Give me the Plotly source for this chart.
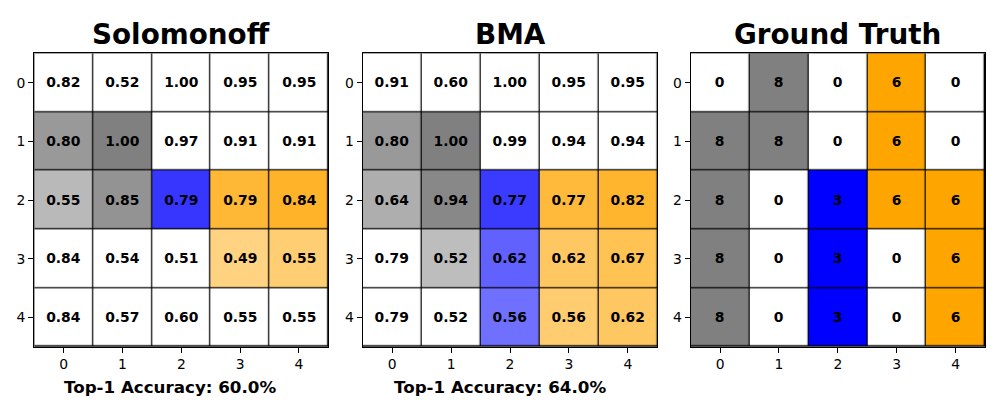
import plotly.graph_objects as go

rows = [0, 1, 2, 3, 4]
cols = [0, 1, 2, 3, 4]

titles = ["Solomonoff", "BMA", "Ground Truth"]

solomonoff_pred = [[0, 0, 0, 0, 0],
                   [8, 8, 0, 0, 0],
                   [8, 8, 3, 6, 6],
                   [0, 0, 0, 6, 6],
                   [0, 0, 0, 0, 0]]
solomonoff_prob = [[0.82, 0.52, 1.00, 0.95, 0.95],
                   [0.80, 1.00, 0.97, 0.91, 0.91],
                   [0.55, 0.85, 0.79, 0.79, 0.84],
                   [0.84, 0.54, 0.51, 0.49, 0.55],
                   [0.84, 0.57, 0.60, 0.55, 0.55]]

bma_pred = [[0, 0, 0, 0, 0],
            [8, 8, 0, 0, 0],
            [8, 8, 3, 6, 6],
            [0, 8, 3, 6, 6],
            [0, 0, 3, 6, 6]]
bma_prob = [[0.91, 0.60, 1.00, 0.95, 0.95],
            [0.80, 1.00, 0.99, 0.94, 0.94],
            [0.64, 0.94, 0.77, 0.77, 0.82],
            [0.79, 0.52, 0.62, 0.62, 0.67],
            [0.79, 0.52, 0.56, 0.56, 0.62]]

ground_truth = [[0, 8, 0, 6, 0],
                [8, 8, 0, 6, 0],
                [8, 0, 3, 6, 6],
                [8, 0, 3, 0, 6],
                [8, 0, 3, 0, 6]]

palette = {0: (255, 255, 255), 3: (0, 0, 255), 6: (255, 165, 0), 8: (128, 128, 128)}

FONT = "DejaVu Sans"


def blend(cls, alpha):
    r, g, b = palette[cls]
    f = lambda c: round(255 - alpha * (255 - c))
    return f"rgb({f(r)},{f(g)},{f(b)})"


def accuracy(pred, gt):
    n = sum(1 for i in rows for j in cols if pred[i][j] == gt[i][j])
    return 100.0 * n / (len(rows) * len(cols))


panels = [
    (solomonoff_pred, solomonoff_prob, True),
    (bma_pred, bma_prob, True),
    (ground_truth, None, False),
]

x_domains = [[0.0343, 0.3283], [0.3627, 0.6573], [0.6907, 0.985]]
y_domain = [0.1333, 0.8667]
acc_x = [0.170, 0.500, None]

fig = go.Figure()
annotations = []

for p, (cls_grid, prob_grid, is_pred) in enumerate(panels):
    n = len(rows) * len(cols)
    z = [[i * len(cols) + j for j in cols] for i in rows]
    colors = []
    texts = []
    for i in rows:
        trow = []
        for j in cols:
            if prob_grid is not None:
                colors.append(blend(cls_grid[i][j], prob_grid[i][j]))
                trow.append(f"{prob_grid[i][j]:.2f}")
            else:
                colors.append(blend(cls_grid[i][j], 1.0))
                trow.append(str(cls_grid[i][j]))
        texts.append(trow)
    colorscale = [[k / (n - 1), colors[k]] for k in range(n)]
    xa = "x" if p == 0 else f"x{p + 1}"
    ya = "y" if p == 0 else f"y{p + 1}"
    fig.add_trace(go.Heatmap(
        z=z, x=cols, y=rows, text=texts, texttemplate="%{text}",
        textfont=dict(family=FONT, size=13.9, color="black", weight="bold"),
        colorscale=colorscale, zmin=0, zmax=n - 1, showscale=False,
        xgap=1.2, ygap=1.2, hoverinfo="skip", xaxis=xa, yaxis=ya,
    ))
    cx = (x_domains[p][0] + x_domains[p][1]) / 2
    annotations.append(dict(
        text=f"<b>{titles[p]}</b>", x=cx, y=1 - 34.5 / 400, xref="paper", yref="paper",
        xanchor="center", yanchor="middle", showarrow=False,
        font=dict(family=FONT, size=27.8, color="black"),
    ))
    if is_pred:
        acc = accuracy(cls_grid, ground_truth)
        annotations.append(dict(
            text=f"<b>Top-1 Accuracy: {acc:.1f}%</b>", x=acc_x[p], y=1 - 386.5 / 400,
            xref="paper", yref="paper", xanchor="center", yanchor="middle",
            showarrow=False, font=dict(family=FONT, size=16.7, color="black"),
        ))

axis_common = dict(
    showgrid=False, zeroline=False, showline=True, linecolor="black", linewidth=1.2,
    mirror=True, ticks="outside", ticklen=5, tickwidth=1, tickcolor="black",
    tickfont=dict(family=FONT, size=13.9, color="black"),
    tickmode="array", tickvals=cols, ticktext=[str(c) for c in cols],
)

layout = dict(
    width=1000, height=400, autosize=False,
    margin=dict(l=0, r=0, t=0, b=0),
    paper_bgcolor="white", plot_bgcolor="black",
    annotations=annotations, showlegend=False,
)
for p in range(3):
    xk = "xaxis" if p == 0 else f"xaxis{p + 1}"
    yk = "yaxis" if p == 0 else f"yaxis{p + 1}"
    ya = "y" if p == 0 else f"y{p + 1}"
    xa = "x" if p == 0 else f"x{p + 1}"
    layout[xk] = dict(axis_common, domain=x_domains[p], range=[-0.5, 4.5], anchor=ya)
    layout[yk] = dict(axis_common, domain=y_domain, range=[4.5, -0.5], anchor=xa,
                      tickvals=rows, ticktext=[str(r) for r in rows])

fig.update_layout(**layout)
fig.write_html(
    "out.html",
    config={"displayModeBar": False},
    post_script="document.body.style.margin='0';document.body.style.overflow='hidden';",
)
